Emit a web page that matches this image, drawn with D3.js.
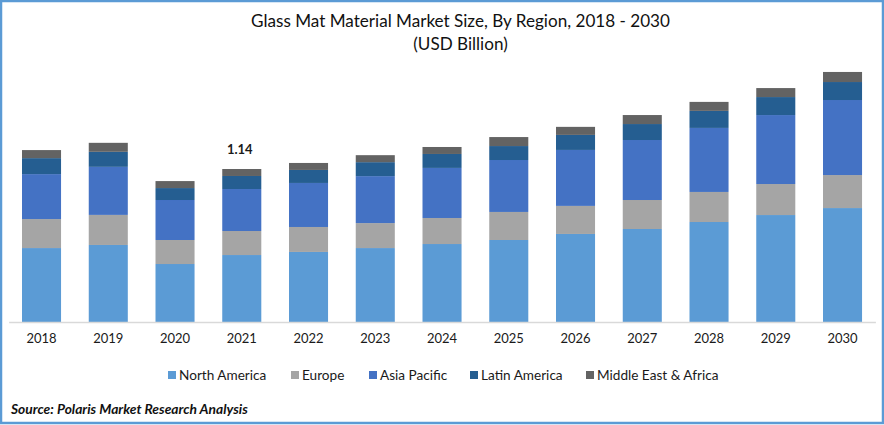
<!DOCTYPE html>
<html>
<head>
<meta charset="utf-8">
<script src="https://cdn.jsdelivr.net/npm/d3@7"></script>
<style>
  html, body { margin: 0; padding: 0; background: #fff; }
  svg { display: block; font-family: Lato, "Open Sans", sans-serif; }
</style>
</head>
<body>
<div id="container"></div>
<script>
/* CONSTANTS AND GLOBALS */
const width = 884, height = 425;

// DATA (USD Billion)
const years = ["2018","2019","2020","2021","2022","2023","2024","2025","2026","2027","2028","2029","2030"];
const regions = ["North America","Europe","Asia Pacific","Latin America","Middle East & Africa"];
const northAmerica = [.551,.574,.432,.499,.522,.551,.581,.611,.656,.693,.745,.797,.849];
const europe       = [.216,.224,.179,.179,.186,.186,.194,.209,.209,.216,.224,.231,.246];
const asiaPacific  = [.335,.358,.298,.313,.328,.350,.373,.387,.417,.447,.477,.514,.559];
const latinAmerica = [.119,.112,.089,.097,.097,.104,.104,.104,.112,.119,.127,.134,.134];
const middleEast   = [.060,.067,.052,.052,.052,.052,.052,.067,.060,.067,.067,.067,.075];
const colors = ["#5b9bd5","#a5a5a5","#4472c4","#255e91","#636363"];
const legendX = [168,291,369,470,586];

const table = years.map((y, i) => ({
  year: y,
  "North America": northAmerica[i],
  "Europe": europe[i],
  "Asia Pacific": asiaPacific[i],
  "Latin America": latinAmerica[i],
  "Middle East & Africa": middleEast[i]
}));

const svg = d3.select("#container")
  .append("svg")
  .attr("width", width)
  .attr("height", height);

// FRAME
svg.append("rect")
  .attr("x", 1).attr("y", 1)
  .attr("width", width - 2).attr("height", height - 3)
  .attr("fill", "white")
  .attr("stroke", "#5b9bd5")
  .attr("stroke-width", 2.5);

// SCALES
const x = d3.scaleBand()
  .domain(years)
  .range([8.65, 875.4])
  .paddingInner(0.415)
  .paddingOuter(0.2);

const y = d3.scaleLinear()
  .domain([0, 1.9])
  .range([322, 67]);

// BARS
const stacked = d3.stack().keys(regions)(table);

svg.selectAll("g.layer")
  .data(stacked)
  .join("g")
  .attr("class", "layer")
  .attr("fill", (d, i) => colors[i])
  .selectAll("rect")
  .data(d => d)
  .join("rect")
  .attr("x", d => x(d.data.year))
  .attr("y", d => y(d[1]))
  .attr("width", x.bandwidth())
  .attr("height", d => y(d[0]) - y(d[1]));

// AXIS
const axis = svg.append("g")
  .attr("transform", "translate(0,322)")
  .call(d3.axisBottom(x).tickSize(0).tickPadding(12));
axis.select(".domain").attr("stroke", "#d9d9d9").attr("stroke-width", 1.5);
axis.selectAll("text")
  .attr("font-size", 13)
  .attr("font-family", "Lato")
  .attr("fill", "#1a1a1a");

// TITLE
svg.append("text")
  .attr("x", 460.5).attr("y", 27)
  .attr("text-anchor", "middle")
  .attr("font-size", 17.1)
  .attr("fill", "#111")
  .text("Glass Mat Material Market Size, By Region, 2018 - 2030");
svg.append("text")
  .attr("x", 460.5).attr("y", 50)
  .attr("text-anchor", "middle")
  .attr("font-size", 17.1)
  .attr("fill", "#111")
  .text("(USD Billion)");

// VALUE LABEL ON 2021
svg.append("text")
  .attr("x", x("2021") + x.bandwidth() / 2 - 2)
  .attr("y", 154)
  .attr("text-anchor", "middle")
  .attr("font-size", 13)
  .attr("font-weight", 700)
  .attr("fill", "#1a1a1a")
  .text("1.14");

// LEGEND
const legend = svg.selectAll("g.legend")
  .data(regions)
  .join("g")
  .attr("class", "legend")
  .attr("transform", (d, i) => `translate(${legendX[i]},371)`);
legend.append("rect")
  .attr("width", 8).attr("height", 8)
  .attr("fill", (d, i) => colors[i]);
legend.append("text")
  .attr("x", 11).attr("y", 9)
  .attr("font-size", 13.6)
  .attr("fill", "#1a1a1a")
  .text(d => d);

// SOURCE
svg.append("text")
  .attr("x", 11).attr("y", 414)
  .attr("font-size", 13.8)
  .attr("font-weight", 700)
  .attr("font-style", "italic")
  .attr("fill", "#111")
  .text("Source: Polaris  Market Research Analysis");
</script>
</body>
</html>
